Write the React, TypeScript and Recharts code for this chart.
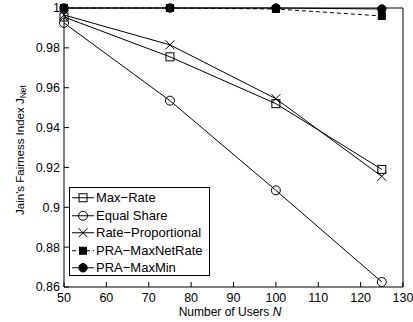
import React from 'react';
import { LineChart, Line, XAxis, YAxis, Legend } from 'recharts';

const users = [50, 75, 100, 125];
const maxRate = [0.9955, 0.9755, 0.952, 0.919];
const equalShare = [0.9925, 0.9535, 0.9085, 0.8625];
const rateProportional = [0.9965, 0.9815, 0.9545, 0.9155];
const praMaxNetRate = [1.0, 1.0, 0.9995, 0.996];
const praMaxMin = [1.0, 1.0, 1.0, 0.9995];

const xTicks = [50, 60, 70, 80, 90, 100, 110, 120, 130];
const yTicks = [0.86, 0.88, 0.9, 0.92, 0.94, 0.96, 0.98, 1];

const seriesNames = ['Max\u2212Rate', 'Equal Share', 'Rate\u2212Proportional', 'PRA\u2212MaxNetRate', 'PRA\u2212MaxMin'];
const seriesKeys = ['maxRate', 'equalShare', 'rateProportional', 'praMaxNetRate', 'praMaxMin'];
const markers = ['openSquare', 'openCircle', 'cross', 'filledSquare', 'filledCircle'];
const dashes = ['', '', '', '4 3', ''];

const data = users.map((n, i) => ({
  n,
  maxRate: maxRate[i],
  equalShare: equalShare[i],
  rateProportional: rateProportional[i],
  praMaxNetRate: praMaxNetRate[i],
  praMaxMin: praMaxMin[i],
}));

const FONT = '"Liberation Sans", Arial, Helvetica, sans-serif';

function Marker({ kind, cx, cy }: { kind: string; cx: number; cy: number }) {
  if (cx == null || cy == null) return null;
  switch (kind) {
    case 'openSquare':
      return <rect x={cx - 4} y={cy - 4} width={8} height={8} fill="none" stroke="#000" strokeWidth={1} />;
    case 'openCircle':
      return <circle cx={cx} cy={cy} r={4.5} fill="none" stroke="#000" strokeWidth={1} />;
    case 'cross':
      return (
        <g stroke="#000" strokeWidth={1}>
          <line x1={cx - 4.5} y1={cy - 4.5} x2={cx + 4.5} y2={cy + 4.5} />
          <line x1={cx - 4.5} y1={cy + 4.5} x2={cx + 4.5} y2={cy - 4.5} />
        </g>
      );
    case 'filledSquare':
      return <rect x={cx - 3.5} y={cy - 3.5} width={7} height={7} fill="#000" stroke="#000" />;
    case 'filledCircle':
      return <circle cx={cx} cy={cy} r={4.2} fill="#000" stroke="#000" />;
    default:
      return null;
  }
}

function LegendBox() {
  return (
    <div
      style={{
        width: 141,
        height: 89,
        border: '1px solid #000',
        background: '#fff',
        boxSizing: 'border-box',
        position: 'relative',
        fontFamily: FONT,
        fontSize: 13,
      }}
    >
      {seriesNames.map((name, i) => {
        const top = 1 + i * 17.5;
        return (
          <div key={name} style={{ position: 'absolute', left: 0, top, height: 17.5, width: 140 }}>
            <svg width={26} height={17.5} style={{ position: 'absolute', left: 0, top: 0 }}>
              <line x1={2} y1={8.75} x2={24} y2={8.75} stroke="#000" strokeWidth={1} strokeDasharray={dashes[i] ? '4 3' : undefined} />
              <Marker kind={markers[i]} cx={13} cy={8.75} />
            </svg>
            <span style={{ position: 'absolute', left: 26, top: 0, lineHeight: '17.5px', whiteSpace: 'nowrap', color: '#000' }}>
              {name}
            </span>
          </div>
        );
      })}
    </div>
  );
}

export default function App() {
  const tickStyle = { fill: '#000', fontSize: 12.5, fontFamily: FONT };
  return (
    <div style={{ position: 'absolute', left: 0, top: 0, width: 413, height: 322, background: '#fff' }}>
      <LineChart width={413} height={322} data={data} margin={{ top: 7, right: 9, bottom: 0, left: 0 }}>
        <XAxis
          xAxisId="bottom"
          dataKey="n"
          type="number"
          domain={[50, 130]}
          ticks={xTicks}
          interval={0}
          height={35}
          orientation="bottom"
          stroke="#000"
          tickSize={-5}
          tickMargin={11}
          tick={tickStyle}
          axisLine={{ stroke: '#000' }}
          tickLine={{ stroke: '#000' }}
          label={{
            content: () => (
              <text x={230} y={316} textAnchor="middle" fontFamily={FONT} fontSize={12} fill="#000">
                Number of Users <tspan fontStyle="italic">N</tspan>
              </text>
            ),
          }}
        />
        <XAxis
          xAxisId="top"
          dataKey="n"
          type="number"
          domain={[50, 130]}
          ticks={xTicks}
          interval={0}
          height={1}
          orientation="top"
          stroke="#000"
          tickSize={-5}
          tick={false}
          axisLine={{ stroke: '#000' }}
          tickLine={{ stroke: '#000' }}
        />
        <YAxis
          yAxisId="left"
          type="number"
          domain={[0.86, 1]}
          ticks={yTicks}
          interval={0}
          width={64}
          orientation="left"
          stroke="#000"
          tickSize={-5}
          tickMargin={9}
          tick={tickStyle}
          axisLine={{ stroke: '#000' }}
          tickLine={{ stroke: '#000' }}
          label={{
            content: () => (
              <text
                x={20}
                y={150}
                transform="rotate(-90 20 150)"
                textAnchor="middle"
                dominantBaseline="central"
                fontFamily={FONT}
                fontSize={11.5}
                fill="#000"
              >
                Jain's Fairness Index J
                <tspan fontSize={8.5} dy={3}>Net</tspan>
              </text>
            ),
          }}
        />
        <YAxis
          yAxisId="right"
          type="number"
          domain={[0.86, 1]}
          ticks={yTicks}
          interval={0}
          width={1}
          orientation="right"
          stroke="#000"
          tickSize={-5}
          tick={false}
          axisLine={{ stroke: '#000' }}
          tickLine={{ stroke: '#000' }}
        />
        {seriesKeys.map((key, i) => (
          <Line
            key={key}
            xAxisId="bottom"
            yAxisId="left"
            dataKey={key}
            name={seriesNames[i]}
            stroke="#000"
            strokeWidth={1}
            strokeDasharray={dashes[i] || undefined}
            isAnimationActive={false}
            activeDot={false}
            dot={(p: any) => <Marker key={`${key}-${p.index}`} kind={markers[i]} cx={p.cx} cy={p.cy} />}
          />
        ))}
        <Legend
          layout="vertical"
          align="center"
          verticalAlign="middle"
          wrapperStyle={{ position: 'absolute', left: 69, top: 187, width: 141, height: 89 }}
          content={() => <LegendBox />}
        />
      </LineChart>
    </div>
  );
}
